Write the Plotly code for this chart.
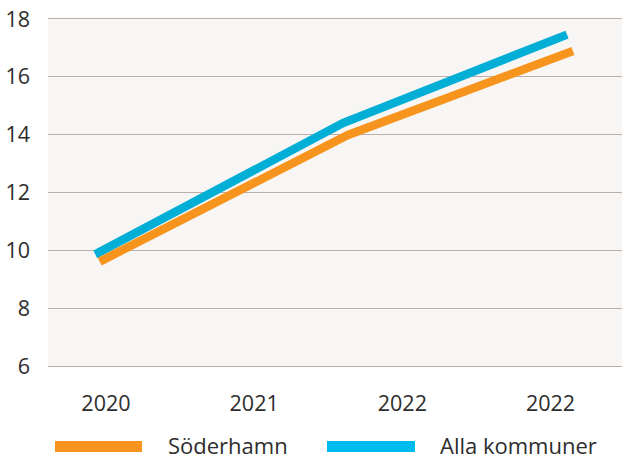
import plotly.graph_objects as go

# Axis categories (tick positions 0..3) and their labels
tick_pos = [0, 1, 2, 3]
tick_labels = ["2020", "2021", "2022", "2022"]
y_ticks = [6, 8, 10, 12, 14, 16, 18]

# Series
series_names = ["Söderhamn", "Alla kommuner"]
soderhamn_x = [-0.042, 1.633, 3.151]
soderhamn_y = [9.61, 13.99, 16.89]
alla_x = [-0.072, 1.599, 3.111]
alla_y = [9.86, 14.40, 17.46]

line_colors = ["#F7941E", "#00AED6"]
legend_colors = ["#F7941E", "#00BBEE"]

FONT = "Open Sans, Noto Sans, sans-serif"
TEXT = "#2d2d2d"
GRID = "#BBAFAA"

fig = go.Figure()
fig.add_trace(go.Scatter(x=alla_x, y=alla_y, mode="lines", name=series_names[1],
                         line=dict(color=line_colors[1], width=8.5), showlegend=False))
fig.add_trace(go.Scatter(x=soderhamn_x, y=soderhamn_y, mode="lines", name=series_names[0],
                         line=dict(color=line_colors[0], width=8.5), showlegend=False))

# Custom legend: wide colour bars with labels underneath the plot
W, H, L, T, B = 622, 455, 48, 19, 89
pw, ph = W - L, H - T - B


def px_x(v):
    return (v - L) / pw


def px_y(v):
    return (H - B - v) / ph


legend_items = [
    (series_names[0], legend_colors[0], 55, 142, 166),
    (series_names[1], legend_colors[1], 327, 415, 438),
]
for name, col, x0, x1, tx in legend_items:
    fig.add_shape(type="rect", xref="paper", yref="paper",
                  x0=px_x(x0), x1=px_x(x1), y0=px_y(441), y1=px_y(452),
                  fillcolor=col, line=dict(width=0))
    fig.add_annotation(xref="paper", yref="paper", x=px_x(tx), y=px_y(445),
                       text=name, showarrow=False, xanchor="left", yanchor="middle",
                       font=dict(family=FONT, size=22, color=TEXT))

fig.update_layout(
    width=W, height=H,
    margin=dict(l=L, r=0, t=T, b=B),
    paper_bgcolor="white",
    plot_bgcolor="#F7F6F4",
    font=dict(family=FONT, size=21.5, color=TEXT),
    showlegend=False,
    xaxis=dict(
        range=[-0.391, 3.482],
        tickvals=tick_pos, ticktext=tick_labels,
        showgrid=False, zeroline=False,
        showline=True, linecolor=GRID, linewidth=1.2, mirror=True,
        ticks="", ticklabelstandoff=18,
        tickfont=dict(family=FONT, size=21.5, color=TEXT),
    ),
    yaxis=dict(
        range=[6, 18], tickvals=y_ticks,
        showgrid=True, gridcolor=GRID, gridwidth=1.2,
        zeroline=False, showline=False,
        ticks="", ticklabelstandoff=17,
        tickfont=dict(family=FONT, size=21.5, color=TEXT),
    ),
)

fig.write_html("out.html")
